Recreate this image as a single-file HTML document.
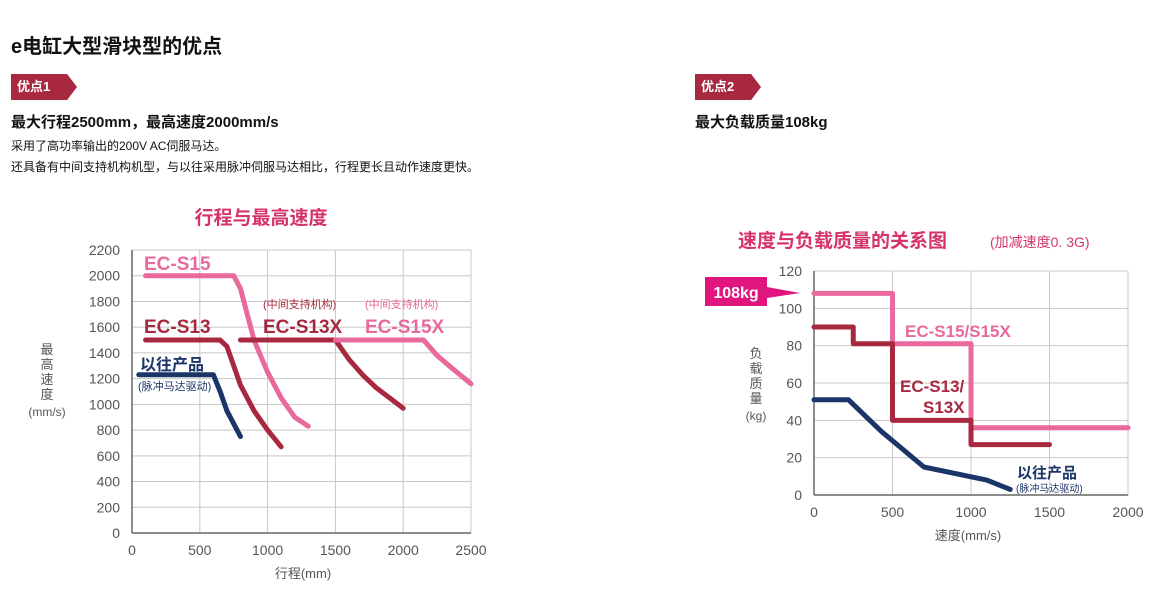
<!DOCTYPE html>
<html><head><meta charset="utf-8"><style>
body{margin:0;width:1175px;height:600px;background:#fff;position:relative;overflow:hidden;font-family:"Liberation Sans","Noto Sans CJK SC",sans-serif;color:#111}
.a{position:absolute;white-space:nowrap}
.tag{position:absolute;height:26px;background:#a8283f;color:#fff;font-weight:bold;font-size:13px;line-height:26px;padding-left:6px;clip-path:polygon(0 0,85% 0,100% 50%,85% 100%,0 100%)}
svg text{font-family:"Liberation Sans","Noto Sans CJK SC",sans-serif}
</style></head><body>
<div class="a" style="left:11px;top:30px;font-size:20px;font-weight:bold">e电缸大型滑块型的优点</div>
<div class="tag" style="left:11px;top:74px;width:60px">优点1</div>
<div class="tag" style="left:695px;top:74px;width:60px">优点2</div>
<div class="a" style="left:11px;top:111px;font-size:15px;font-weight:bold">最大行程2500mm，最高速度2000mm/s</div>
<div class="a" style="left:11px;top:136px;font-size:12px;line-height:21px">采用了高功率输出的200V AC伺服马达。<br>还具备有中间支持机构机型，与以往采用脉冲伺服马达相比，行程更长且动作速度更快。</div>
<div class="a" style="left:695px;top:111px;font-size:15px;font-weight:bold">最大负载质量108kg</div>
<svg id="c" width="1175" height="600" style="position:absolute;left:0;top:0"></svg>
<script>
// Chart 1: stroke vs max speed
const c1xTicks=[0,500,1000,1500,2000,2500];
const c1yTicks=[0,200,400,600,800,1000,1200,1400,1600,1800,2000,2200];
const s15X=[100,750,800,900,1000,1100,1200,1300];
const s15Y=[2000,2000,1900,1500,1250,1050,900,830];
const s13X=[100,650,700,800,900,1000,1100];
const s13Y=[1500,1500,1450,1150,950,800,670];
const oldX=[50,600,650,700,750,800];
const oldY=[1230,1230,1100,950,850,750];
const s13xX=[800,1500,1600,1700,1800,1900,2000];
const s13xY=[1500,1500,1350,1230,1130,1050,970];
const s15xX=[1500,2150,2250,2350,2500];
const s15xY=[1500,1500,1380,1290,1160];
// Chart 2: speed vs load
const c2xTicks=[0,500,1000,1500,2000];
const c2yTicks=[0,20,40,60,80,100,120];
const l15X=[0,500,500,1000,1000,2000];
const l15Y=[108,108,81,81,36,36];
const l13X=[0,250,250,500,500,1000,1000,1500];
const l13Y=[90,90,81,81,40,40,27,27];
const lOldX=[0,220,430,700,1100,1250];
const lOldY=[51,51,34,15,8,3];

const NS='http://www.w3.org/2000/svg',svg=document.getElementById('c');
function el(t,a,txt){const e=document.createElementNS(NS,t);for(const k in a)e.setAttribute(k,a[k]);if(txt!==undefined)e.textContent=txt;svg.appendChild(e);return e;}
const PINK='#e8699b',RED='#a8283f',NAVY='#1c3569',GRID='#c8c8c8';
const x1=v=>132+v*(471-132)/2500, y1=v=>533-v*(533-250)/2200;
const x2=v=>814+v*(1128-814)/2000, y2=v=>495-v*(495-271)/120;

function grid(xT,yT,xf,yf,xmax,ymax,pref){
  yT.forEach(v=>{if(v>0){const g=el('line',{x1:xf(0),x2:xf(xmax),y1:yf(v),y2:yf(v),stroke:GRID,'stroke-width':1});}
    const t=el('text',{x:xf(0)-12,y:yf(v)+5,'text-anchor':'end','font-size':14,fill:'#555'},v);});
  xT.forEach(v=>{if(v>0){const g=el('line',{x1:xf(v),x2:xf(v),y1:yf(0),y2:yf(ymax),stroke:GRID,'stroke-width':1});}
    const t=el('text',{x:xf(v),y:yf(0)+22,'text-anchor':'middle','font-size':14,fill:'#555'},v);});
  const a=el('line',{x1:xf(0),x2:xf(xmax),y1:yf(0),y2:yf(0),stroke:'#666','stroke-width':1.5});
  const b=el('line',{x1:xf(0),x2:xf(0),y1:yf(0),y2:yf(ymax),stroke:'#666','stroke-width':1.5});
}
function line(X,Y,xf,yf,col,name){
  const p=el('polyline',{points:X.map((v,i)=>xf(v)+','+yf(Y[i])).join(' '),fill:'none',stroke:col,'stroke-width':5,'stroke-linecap':'round','stroke-linejoin':'round'});
  
}
function txt(x,y,s,size,col,name,w,anchor){const t=el('text',{x:x,y:y,'font-size':size,fill:col,'font-weight':w||'normal','text-anchor':anchor||'start'},s);return t;}

grid(c1xTicks,c1yTicks,x1,y1,2500,2200,'chart1');
line(s15X,s15Y,x1,y1,PINK,'series-ec-s15');
line(s13X,s13Y,x1,y1,RED,'series-ec-s13');
line(oldX,oldY,x1,y1,NAVY,'series-old-product');
line(s13xX,s13xY,x1,y1,RED,'series-ec-s13x');
line(s15xX,s15xY,x1,y1,PINK,'series-ec-s15x');
txt(261,224,'行程与最高速度',19,'#d6336a','chart1-title','bold','middle');
txt(144,270,'EC-S15',19,PINK,'label-ec-s15','bold');
txt(144,333,'EC-S13',19,RED,'label-ec-s13','bold');
txt(263,333,'EC-S13X',19,RED,'label-ec-s13x','bold');
txt(365,333,'EC-S15X',19,PINK,'label-ec-s15x','bold');
txt(263,308,'(中间支持机构)',11,RED,'label-s13x-note');
txt(365,308,'(中间支持机构)',11,PINK,'label-s15x-note');
txt(140,370,'以往产品',16,NAVY,'label-old-product','bold');
txt(138,390,'(脉冲马达驱动)',11,NAVY,'label-old-note');
['最','高','速','度'].forEach((c,i)=>txt(47,354+i*15,c,13,'#555','chart1-y-title','normal','middle'));
txt(47,416,'(mm/s)',12,'#555','chart1-y-unit','normal','middle');
txt(303,578,'行程(mm)',13,'#555','chart1-x-title','normal','middle');

grid(c2xTicks,c2yTicks,x2,y2,2000,120,'chart2');
line(l15X,l15Y,x2,y2,PINK,'series-ec-s15-s15x');
line(l13X,l13Y,x2,y2,RED,'series-ec-s13-s13x');
line(lOldX,lOldY,x2,y2,NAVY,'series-old-product-load');
txt(738,247,'速度与负载质量的关系图',19,'#d6336a','chart2-title','bold');
txt(990,247,'(加减速度0. 3G)',14,'#d6336a','chart2-subtitle');
const cb=el('polygon',{points:'705,277 767,277 767,287 800,293 767,298 767,306 705,306',fill:'#e0157d'});
txt(736,298,'108kg',16,'#fff','callout-108kg-text','bold','middle');
txt(905,337,'EC-S15/S15X',17,PINK,'label-ec-s15-s15x','bold');
txt(900,392,'EC-S13/',17,RED,'label-ec-s13','bold');
txt(923,413,'S13X',17,RED,'label-s13x','bold');
txt(1017,478,'以往产品',15,NAVY,'label-old-product-2','bold');
txt(1016,492,'(脉冲马达驱动)',10,NAVY,'label-old-note-2');
['负','载','质','量'].forEach((c,i)=>txt(756,358+i*15,c,13,'#555','chart2-y-title','normal','middle'));
txt(756,420,'(kg)',12,'#555','chart2-y-unit','normal','middle');
txt(968,540,'速度(mm/s)',13,'#555','chart2-x-title','normal','middle');
</script>
</body></html>
